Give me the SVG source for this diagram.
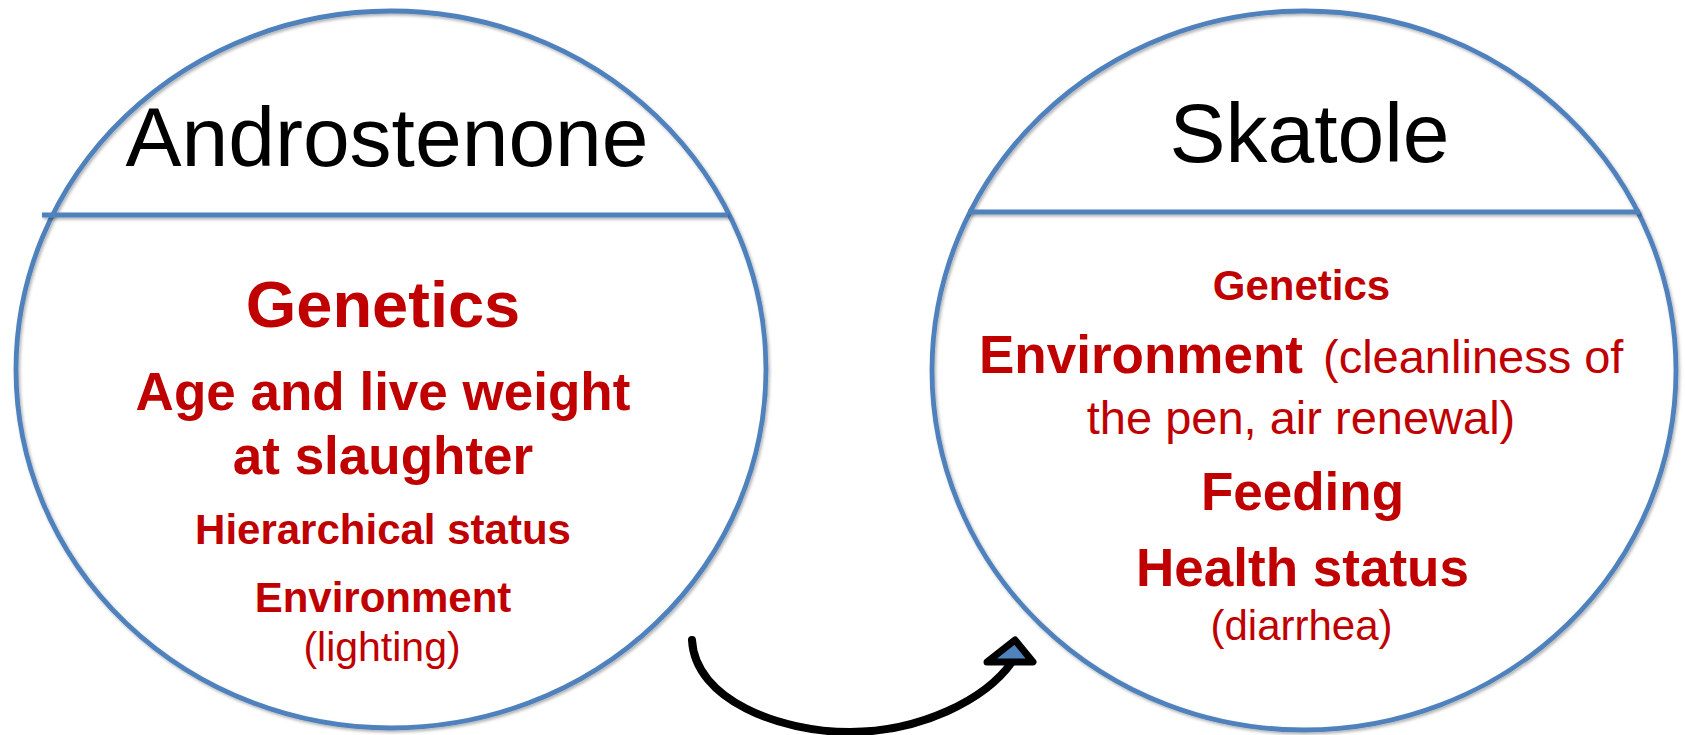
<svg xmlns="http://www.w3.org/2000/svg" width="1685" height="735" viewBox="0 0 1685 735">
<style>
.circ{fill:none;stroke:#4F81BD;stroke-width:4.8;filter:url(#sh)}
.div{stroke:#4F81BD;stroke-width:4.8;filter:url(#sh)}
.title{font-family:"Liberation Sans",Arial,sans-serif;font-size:84px;fill:#000;text-anchor:middle}
.b{font-family:"Liberation Sans",Arial,sans-serif;font-weight:bold;fill:#C00000;text-anchor:middle}
.r{font-family:"Liberation Sans",Arial,sans-serif;fill:#C00000;text-anchor:middle}
.conn{fill:none;stroke:#000;stroke-width:8;stroke-linecap:round}
.head{fill:#4F81BD;stroke:#000;stroke-width:7;stroke-linejoin:round}
</style>
<defs>
<filter id="sh" filterUnits="userSpaceOnUse" x="0" y="0" width="1685" height="735">
<feDropShadow dx="1.5" dy="2" stdDeviation="1.5" flood-color="#000" flood-opacity="0.3"/>
</filter>
</defs>
<rect width="1685" height="735" fill="#fff"/>
<g id="androstenone">
<ellipse class="circ" cx="391" cy="369.5" rx="375" ry="358.5"/>
<line class="div" x1="42" y1="215" x2="728" y2="215"/>
<text class="title" x="387" y="166">Androstenone</text>
<text class="b" x="383" y="327" font-size="65">Genetics</text>
<text class="b" x="383" y="410" font-size="53">Age and live weight</text>
<text class="b" x="383" y="473.5" font-size="53">at slaughter</text>
<text class="b" x="383" y="544" font-size="42">Hierarchical status</text>
<text class="b" x="383" y="612" font-size="42">Environment</text>
<text class="r" x="382" y="661" font-size="41">(lighting)</text>
</g>
<g id="skatole">
<ellipse class="circ" cx="1304" cy="370.5" rx="372" ry="359.5"/>
<line class="div" x1="968" y1="212" x2="1640" y2="212"/>
<text class="title" x="1309.5" y="162">Skatole</text>
<text class="b" x="1301.5" y="300" font-size="42">Genetics</text>
<text x="979" y="373" font-family="'Liberation Sans',Arial,sans-serif" fill="#C00000"><tspan font-weight="bold" font-size="53">Environment</tspan><tspan x="1323" font-size="47">(cleanliness of</tspan></text>
<text class="r" x="1301" y="434" font-size="47">the pen, air renewal)</text>
<text class="b" x="1302.5" y="510" font-size="53">Feeding</text>
<text class="b" x="1302.5" y="586" font-size="53">Health status</text>
<text class="r" x="1301.5" y="640" font-size="42">(diarrhea)</text>
</g>
<g id="connectors">
<path class="conn" d="M692,640 C695,700 780,732 850,732 C920,732 985,700 1012,662"/>
<polygon class="head" points="987,662 1015,640 1033,662"/>
</g>
</svg>
